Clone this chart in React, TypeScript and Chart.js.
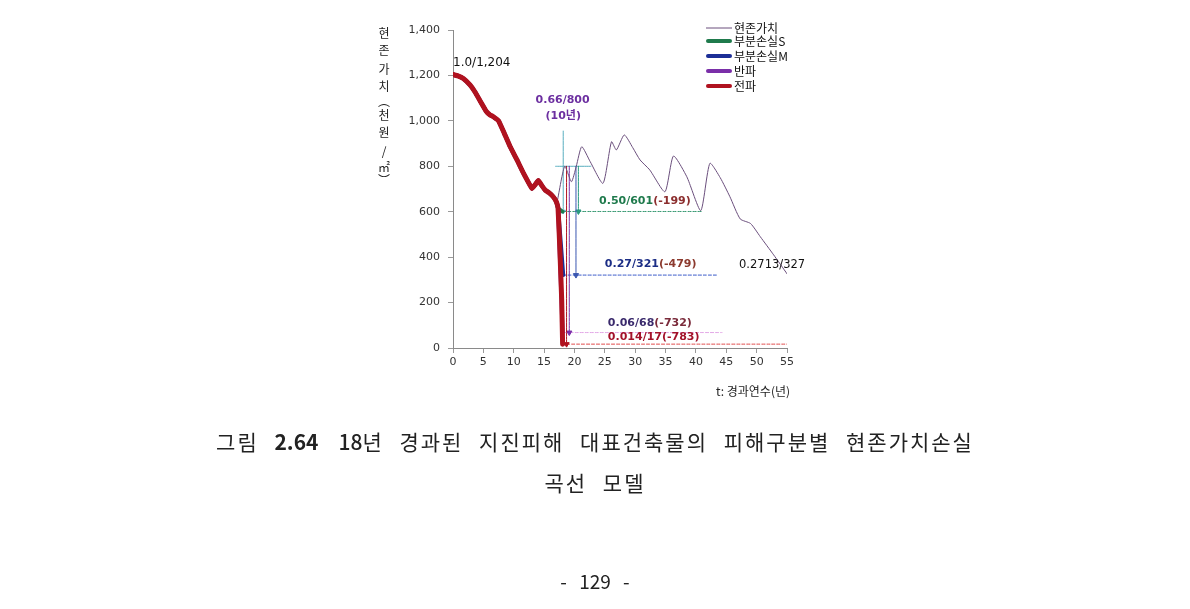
import React, { useEffect, useRef } from "react";
import { Chart, registerables } from "chart.js";

Chart.register(...registerables);

// ---------- data ----------
const xTickMax = 55;
const yTickMax = 1400;

// shared depreciation curve before the damage (years / value, 천원/㎡)
const baseYears = [0, 0.8, 1.7, 2.8, 3.6, 4.6, 5.5, 6.1, 6.6, 7.5, 8.4, 9.4, 10.5, 11.6, 13.0, 13.5, 14.05, 14.6, 15.15, 15.8, 16.5, 17.0, 17.3];
const baseValues = [1204, 1198, 1186, 1158, 1128, 1082, 1041, 1026, 1019, 1000, 948, 887, 830, 770, 703, 718, 737, 716, 696, 684, 666, 645, 615];

// damage drops at year 18
const fullYears = [17.6, 17.9, 18.05];
const fullValues = [431, 211, 17]; // 전파
const halfYears = [18.05];
const halfValues = [68]; // 반파
const partMYears = [18.15];
const partMValues = [321]; // 부분손실M
const partSYears = [18.0];
const partSValues = [601]; // 부분손실S

// 현존가치 after repair
const presentYears = [17.2, 18.4, 19.5, 20.3, 21.2, 22.6, 24.7, 26.1, 26.9, 28.2, 29.6, 30.8, 32.4, 34.9, 36.3, 38.5, 40.8, 42.3, 44.0, 45.6, 47.3, 49.0, 50.6, 52.8, 55.0];
const presentValues = [650, 800, 732, 800, 886, 820, 725, 908, 872, 938, 882, 828, 784, 688, 845, 754, 605, 813, 750, 666, 568, 548, 490, 410, 327];

// residual value guide lines (dashed)
const guideValues = [601, 321, 68, 17];
const guideStart = [18.1, 18.15, 18.5, 17.9];
const guideEnd = [41.0, 43.4, 44.3, 55.0];

// arrows from the restored 800 level
const arrowYears = [18.7, 19.15, 20.25, 20.65];
const arrowTop = [800, 800, 800, 800];
const arrowBottom = [17, 68, 321, 601];

// cross-hair for 0.66/800 (10년)
const crossYear = 18.15;
const crossTop = 955;
const crossBottom = 601;
const crossLevel = 800;
const crossFrom = 16.9;
const crossTo = 22.7;

const legendLabels = ["현존가치", "부분손실S", "부분손실M", "반파", "전파"];

const C_RED = "#b0121f";
const C_PURPLE = "#7a2fa8";
const C_BLUE = "#1c2e96";
const C_GREEN = "#1f7a4c";
const C_THIN = "#6a4e7c";
const C_TEAL = "#58aebf";

const pts = (xs: number[], ys: number[]) => xs.map((x, i) => ({ x, y: ys[i] }));

type Part = [string, string];
const annotations: { x: number; y: number; align: CanvasTextAlign; font: string; parts: Part[] }[] = [
  { x: 0, y: 1255, align: "left", font: "12px 'DejaVu Sans'", parts: [["1.0/1,204", "#111"]] },
  { x: 18.05, y: 1092, align: "center", font: "bold 11px 'DejaVu Sans', 'Noto Sans CJK KR'", parts: [["0.66/800", "#6c2fa0"]] },
  { x: 18.15, y: 1022, align: "center", font: "bold 11px 'DejaVu Sans', 'Noto Sans CJK KR'", parts: [["(10년)", "#6c2fa0"]] },
  { x: 24.05, y: 647, align: "left", font: "bold 11px 'DejaVu Sans'", parts: [["0.50/601", "#1f7a4c"], ["(-199)", "#8c2e2e"]] },
  { x: 25.0, y: 370, align: "left", font: "bold 11px 'DejaVu Sans'", parts: [["0.27/321", "#1c2e86"], ["(-479)", "#8c3a2e"]] },
  { x: 47.1, y: 365, align: "left", font: "11.5px 'DejaVu Sans'", parts: [["0.2713/327", "#111"]] },
  { x: 25.5, y: 110, align: "left", font: "bold 11px 'DejaVu Sans'", parts: [["0.06/68", "#3a2a6c"], ["(-732)", "#7a2a3a"]] },
  { x: 25.5, y: 48, align: "left", font: "bold 11px 'DejaVu Sans'", parts: [["0.014/17", "#a3122a"], ["(-783)", "#a3122a"]] },
];

const yTitleChars = ["현", "존", "가", "치", "︵", "천", "원", "/", "㎡", "︶"];
const yTitleYs = [33, 50, 69, 86, 101, 115, 132, 151, 167, 180];

const textPlugin = {
  id: "texts",
  afterDraw(chart: any) {
    const ctx = chart.ctx as CanvasRenderingContext2D;
    const xs = chart.scales.x;
    const ys = chart.scales.y;
    ctx.save();
    ctx.textBaseline = "middle";
    for (const a of annotations) {
      ctx.font = a.font;
      const total = a.parts.reduce((s, p) => s + ctx.measureText(p[0]).width, 0);
      let px = xs.getPixelForValue(a.x);
      if (a.align === "center") px -= total / 2;
      const py = ys.getPixelForValue(a.y);
      ctx.textAlign = "left";
      for (const [t, c] of a.parts) {
        ctx.fillStyle = c;
        ctx.fillText(t, px, py);
        px += ctx.measureText(t).width;
      }
    }
    // y axis title (vertical stacked)
    ctx.font = "12px 'Noto Sans CJK KR'";
    ctx.fillStyle = "#222";
    ctx.textAlign = "center";
    yTitleChars.forEach((ch, i) => ctx.fillText(ch, 384, yTitleYs[i]));
    // x axis title
    ctx.font = "12px 'Noto Sans CJK KR'";
    ctx.textAlign = "left";
    ctx.fillText("t: 경과연수(년)", 716, 391);
    // legend
    const rows = [28, 41, 56, 71, 86];
    const colors = [C_THIN, C_GREEN, C_BLUE, C_PURPLE, C_RED];
    legendLabels.forEach((lab, i) => {
      ctx.beginPath();
      ctx.strokeStyle = colors[i];
      ctx.lineWidth = i === 0 ? 1 : 4;
      ctx.lineCap = i === 0 ? "butt" : "round";
      ctx.moveTo(i === 0 ? 706 : 708, rows[i]);
      ctx.lineTo(i === 0 ? 732 : 730, rows[i]);
      ctx.stroke();
      ctx.fillStyle = "#111";
      ctx.font = "12px 'Noto Sans CJK KR'";
      ctx.fillText(lab, 734, rows[i]);
    });
    ctx.restore();
  },
};

export default function App() {
  const ref = useRef<HTMLCanvasElement | null>(null);
  useEffect(() => {
    if (!ref.current) return;
    const guideColors = ["#3a9a74", "#3858c8", "#e2a6e6", "#e04848"];
    const arrowColors = [C_RED, C_PURPLE, "#3a56b0", "#2a9a80"];
    const datasets: any[] = [
      { label: "전파", data: pts([...baseYears, ...fullYears], [...baseValues, ...fullValues]), borderColor: C_RED, borderWidth: 5, order: 0 },
      { label: "반파", data: pts([...baseYears, ...halfYears], [...baseValues, ...halfValues]), borderColor: C_PURPLE, borderWidth: 4, order: 1 },
      { label: "부분손실M", data: pts([...baseYears, ...partMYears], [...baseValues, ...partMValues]), borderColor: C_BLUE, borderWidth: 4, order: 2 },
      { label: "부분손실S", data: pts([...baseYears, ...partSYears], [...baseValues, ...partSValues]), borderColor: C_GREEN, borderWidth: 4, order: 3 },
      { label: "현존가치", data: pts(presentYears, presentValues), borderColor: C_THIN, borderWidth: 1, tension: 0.2, order: 4 },
    ];
    guideValues.forEach((v, i) => {
      datasets.push({
        label: "guide" + i,
        data: [{ x: guideStart[i], y: v }, { x: guideEnd[i], y: v }],
        borderColor: guideColors[i],
        borderWidth: 1,
        borderDash: [3, 2],
        order: 6,
      });
    });
    arrowYears.forEach((x, i) => {
      datasets.push({
        label: "arrow" + i,
        data: [{ x, y: arrowTop[i] }, { x, y: arrowBottom[i] }],
        borderColor: arrowColors[i],
        backgroundColor: arrowColors[i],
        borderWidth: 1,
        pointRadius: [0, 3],
        pointStyle: "triangle",
        pointRotation: 180,
        order: 5,
      });
    });
    datasets.push({
      label: "crossV",
      data: [{ x: crossYear, y: crossTop }, { x: crossYear, y: crossBottom }],
      borderColor: C_TEAL,
      backgroundColor: C_TEAL,
      borderWidth: 1,
      pointRadius: [0, 2.5],
      pointStyle: "triangle",
      pointRotation: 180,
      order: 7,
    });
    datasets.push({
      label: "crossH",
      data: [{ x: crossFrom, y: crossLevel }, { x: crossTo, y: crossLevel }],
      borderColor: C_TEAL,
      borderWidth: 1,
      order: 7,
    });

    const chart = new Chart(ref.current, {
      type: "line",
      data: { datasets },
      options: {
        animation: false,
        responsive: false,
        devicePixelRatio: 1,
        elements: { point: { radius: 0 }, line: { tension: 0.1, borderCapStyle: "round", borderJoinStyle: "round" } },
        layout: { padding: { left: 393, right: 403, top: 30, bottom: 231 } },
        plugins: { legend: { display: false }, tooltip: { enabled: false } },
        scales: {
          x: {
            type: "linear",
            min: 0,
            max: xTickMax,
            afterFit: (s: any) => { s.height = 30; },
            ticks: { stepSize: 5, color: "#333", font: { family: "'DejaVu Sans'", size: 11 }, padding: 3 },
            grid: { drawOnChartArea: false, drawTicks: true, tickLength: 5, color: "#9a9a9a" },
            border: { color: "#8a8a8a" },
          },
          y: {
            min: 0,
            max: yTickMax,
            afterFit: (s: any) => { s.width = 60; },
            ticks: { stepSize: 200, color: "#333", font: { family: "'DejaVu Sans'", size: 11 }, padding: 8 },
            grid: { drawOnChartArea: false, drawTicks: true, tickLength: 5, color: "#9a9a9a" },
            border: { color: "#8a8a8a" },
          },
        },
      },
      plugins: [textPlugin],
    } as any);
    return () => chart.destroy();
  }, []);

  const captionStyle: React.CSSProperties = {
    position: "fixed",
    left: 0,
    width: 1190,
    textAlign: "center",
    fontFamily: "'Noto Sans CJK KR'",
    fontSize: 21,
    letterSpacing: 2,
    wordSpacing: 9,
    color: "#222",
    whiteSpace: "pre",
    lineHeight: "24px",
  };

  return (
    <div>
      <canvas ref={ref} width={1190} height={609} style={{ position: "fixed", left: 0, top: 0 }} />
      <div style={{ ...captionStyle, top: 429 }}>
        그림 <span style={{ fontWeight: 600, letterSpacing: 0 }}>2.64</span>
        <span style={{ display: "inline-block", width: 20 }} />
        <span style={{ fontWeight: 500, letterSpacing: 0 }}>18</span>년 경과된 지진피해 대표건축물의 피해구분별 현존가치손실
      </div>
      <div style={{ ...captionStyle, top: 470 }}>곡선 모델</div>
      <div style={{ ...captionStyle, top: 569, fontSize: 19, letterSpacing: 0, wordSpacing: 8 }}>- 129 -</div>
    </div>
  );
}
